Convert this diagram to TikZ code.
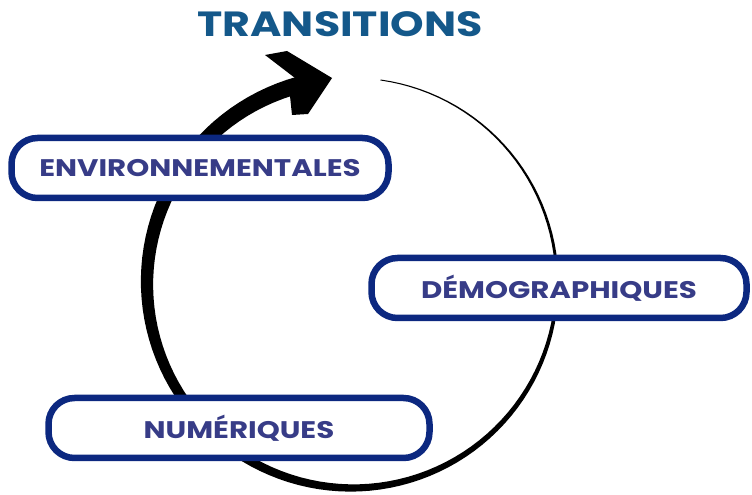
\documentclass[tikz,border=0pt]{standalone}
\usepackage{fontspec}
\setmainfont{Poppins}[FakeStretch=1.22]
\usetikzlibrary{math}
\definecolor{mynavy}{RGB}{12,40,128}
\definecolor{myindigo}{RGB}{55,60,135}
\definecolor{myteal}{RGB}{20,88,138}

\begin{document}
\begin{tikzpicture}[x=1pt,y=1pt,
  declare function={tw(\p)=1+16*(\p/338)^1.4;},
  labelbox/.style={draw=mynavy, line width=6.5pt, fill=white, rounded corners=26pt,
    minimum height=60pt, text=myindigo, font=\bfseries\fontsize{24}{24}\selectfont}]
  \tikzmath{
    \cx=352; \cy=212; \R=205;
  }
  \useasboundingbox (0,0) rectangle (752,495);

  \node[text=myteal, font=\bfseries\fontsize{35}{35}\selectfont, anchor=base] (title) at (340,458) {TRANSITIONS};

  % cycle arrow, thin at the start, thick at the head
  \fill plot[domain=1:338, samples=120] ({\cx+(\R+tw(\x)/2)*cos(83-\x)},{\cy+(\R+tw(\x)/2)*sin(83-\x)})
    -- plot[domain=338:1, samples=120] ({\cx+(\R-tw(\x)/2)*cos(83-\x)},{\cy+(\R-tw(\x)/2)*sin(83-\x)}) -- cycle;
  \fill (265,440) -- (287,444) -- (332,417) -- (308,381) -- (292,380) -- (290,399) -- (295,417) -- cycle;

  \node[labelbox, minimum width=377pt] (env) at (200,327) {ENVIRONNEMENTALES};
  \node[labelbox, minimum width=375pt] (demo) at (559,207) {DÉMOGRAPHIQUES};
  \node[labelbox, minimum width=381pt] (num) at (239,67) {NUMÉRIQUES};

\end{tikzpicture}
\end{document}
